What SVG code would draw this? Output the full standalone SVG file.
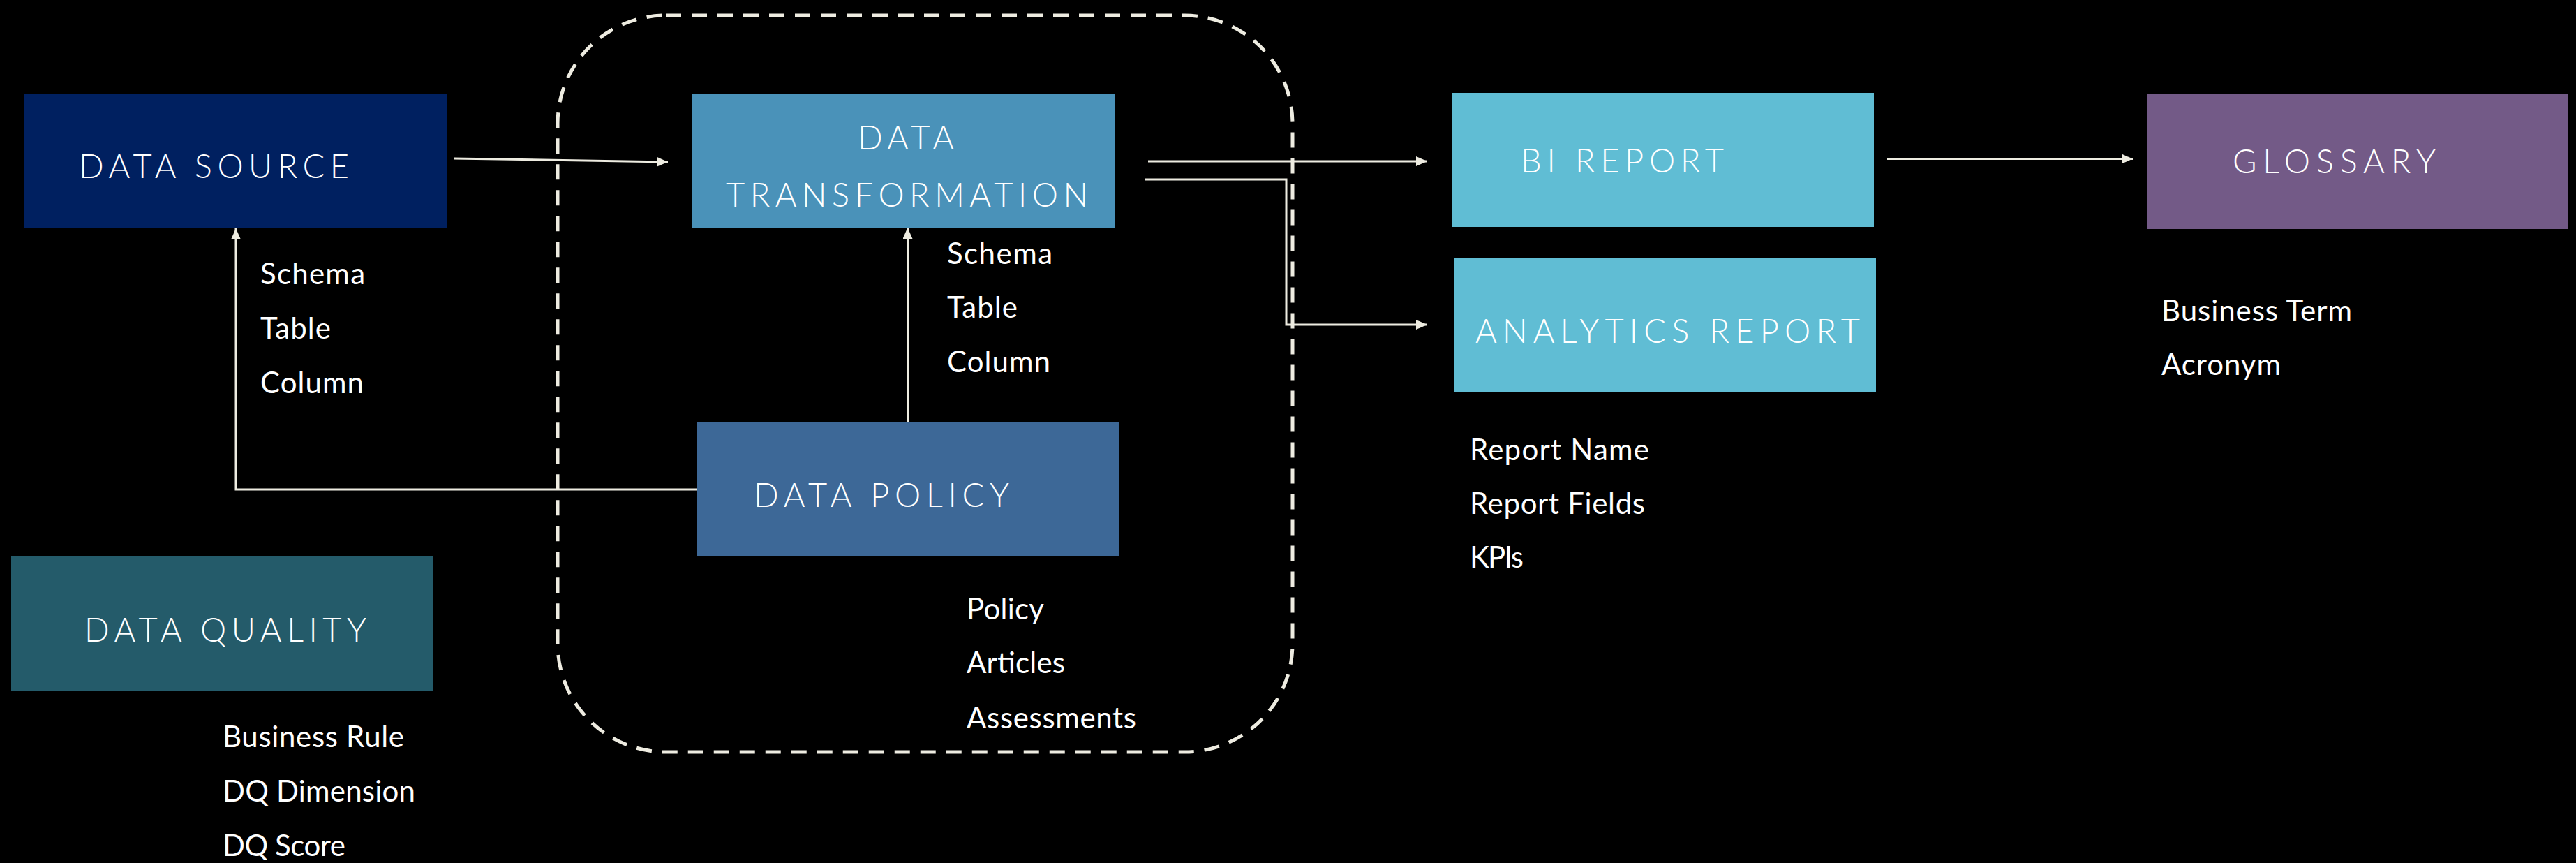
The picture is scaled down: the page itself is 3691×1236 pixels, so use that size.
<svg xmlns="http://www.w3.org/2000/svg" width="3691" height="1236" viewBox="0 0 3691 1236">
<defs>
<style>
.title{font-family:"Lato","Liberation Sans",sans-serif;font-weight:300;font-size:47px;fill:#ffffff}
.item{font-family:"Lato","Liberation Sans",sans-serif;font-weight:400;font-size:42px;fill:#ffffff}
.conn{fill:none;stroke:#EEECE1;stroke-width:3}
.group{fill:none;stroke:#EEECE1;stroke-width:5;stroke-dasharray:22 15}
</style>
<marker id="arr" markerUnits="userSpaceOnUse" markerWidth="17" markerHeight="15" refX="16" refY="7" orient="auto">
<path d="M0,0 L16,7 L0,14 z" fill="#EEECE1"/>
</marker>
</defs>
<rect x="0" y="0" width="3691" height="1236" fill="#000000"/>
<rect id="container" class="group" x="799" y="22" width="1053" height="1055" rx="155" ry="155"/>
<g id="connectors">
<path class="conn" d="M650,227 L957,232" marker-end="url(#arr)"/>
<path class="conn" d="M1645,231 L2045,231" marker-end="url(#arr)"/>
<path class="conn" d="M1640,257 L1843,257 L1843,465 L2045,465" marker-end="url(#arr)"/>
<path class="conn" d="M2704,227.5 L3056,227.5" marker-end="url(#arr)"/>
<path class="conn" d="M1300.5,605 L1300.5,326" marker-end="url(#arr)"/>
<path class="conn" d="M999,701 L338,701 L338,327" marker-end="url(#arr)"/>
</g>
<g id="data-source">
<rect x="35" y="134" width="605" height="192" fill="#002060"/>
<text class="title" x="113" y="255" textLength="387" lengthAdjust="spacing">DATA SOURCE</text>
<text class="item" x="373" y="407" textLength="150" lengthAdjust="spacing">Schema</text>
<text class="item" x="373" y="485" textLength="101" lengthAdjust="spacing">Table</text>
<text class="item" x="373" y="563" textLength="148" lengthAdjust="spacing">Column</text>
</g>
<g id="data-transformation">
<rect x="992" y="134" width="605" height="192" fill="#4A92B9"/>
<text class="title" x="1229" y="213.5" textLength="138" lengthAdjust="spacing">DATA</text>
<text class="title" x="1040" y="296" textLength="519" lengthAdjust="spacing">TRANSFORMATION</text>
<text class="item" x="1357" y="378" textLength="151" lengthAdjust="spacing">Schema</text>
<text class="item" x="1357" y="455" textLength="101" lengthAdjust="spacing">Table</text>
<text class="item" x="1357" y="533" textLength="148" lengthAdjust="spacing">Column</text>
</g>
<g id="data-policy">
<rect x="999" y="605" width="604" height="192" fill="#3D6897"/>
<text class="title" x="1080" y="726" textLength="366" lengthAdjust="spacing">DATA POLICY</text>
<text class="item" x="1385" y="887" textLength="111" lengthAdjust="spacing">Policy</text>
<text class="item" x="1385" y="964" textLength="141" lengthAdjust="spacing">Articles</text>
<text class="item" x="1385" y="1043" textLength="243" lengthAdjust="spacing">Assessments</text>
</g>
<g id="data-quality">
<rect x="16" y="797" width="605" height="193" fill="#245B6A"/>
<text class="title" x="121" y="919" textLength="404" lengthAdjust="spacing">DATA QUALITY</text>
<text class="item" x="319" y="1070" textLength="260" lengthAdjust="spacing">Business Rule</text>
<text class="item" x="319" y="1148" textLength="276" lengthAdjust="spacing">DQ Dimension</text>
<text class="item" x="319" y="1226" textLength="176" lengthAdjust="spacing">DQ Score</text>
</g>
<g id="bi-report">
<rect x="2080" y="133" width="605" height="192" fill="#60BDD4"/>
<text class="title" x="2179" y="247" textLength="291" lengthAdjust="spacing">BI REPORT</text>
</g>
<g id="analytics-report">
<rect x="2084" y="369" width="604" height="192" fill="#60BDD4"/>
<text class="title" x="2114" y="491" textLength="551" lengthAdjust="spacing">ANALYTICS REPORT</text>
<text class="item" x="2106" y="659" textLength="257" lengthAdjust="spacing">Report Name</text>
<text class="item" x="2106" y="736" textLength="251" lengthAdjust="spacing">Report Fields</text>
<text class="item" x="2106" y="813" textLength="77" lengthAdjust="spacing">KPIs</text>
</g>
<g id="glossary">
<rect x="3076" y="135" width="604" height="193" fill="#735A87"/>
<text class="title" x="3199" y="248" textLength="291" lengthAdjust="spacing">GLOSSARY</text>
<text class="item" x="3097" y="460" textLength="273" lengthAdjust="spacing">Business Term</text>
<text class="item" x="3097" y="537" textLength="171" lengthAdjust="spacing">Acronym</text>
</g>
</svg>
